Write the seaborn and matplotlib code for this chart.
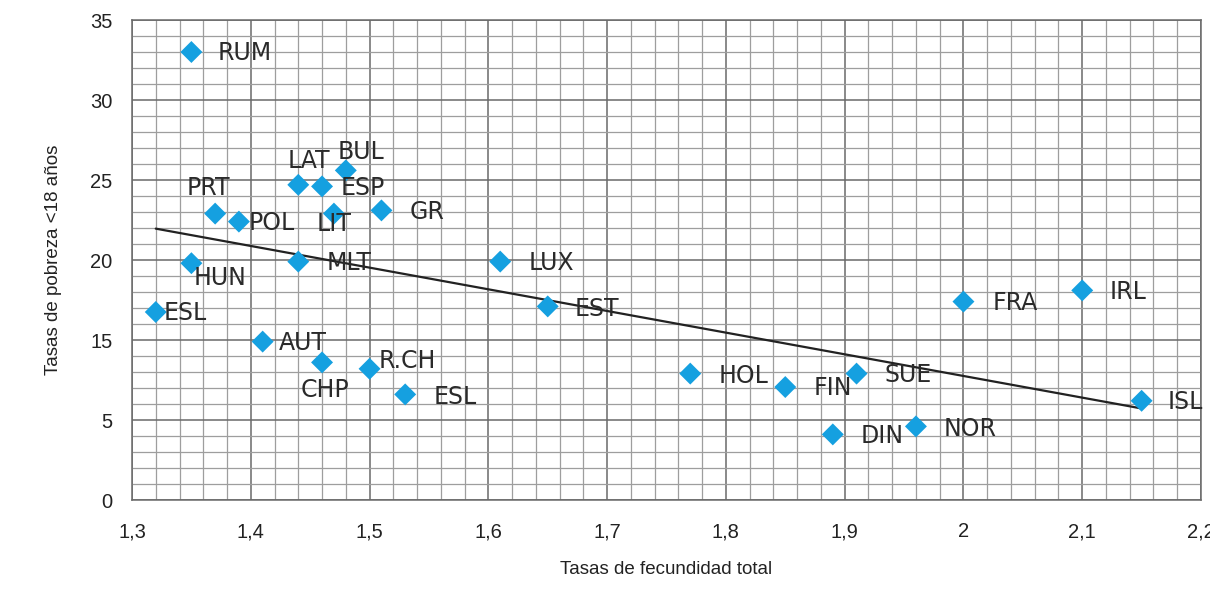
import matplotlib
matplotlib.use("Agg")
import matplotlib.pyplot as plt
from matplotlib.ticker import FixedLocator, MultipleLocator
import seaborn as sns
import pandas as pd

# datos (eje y en unidades de la rejilla; las etiquetas del eje saltan el 10)
paises = ["RUM", "LAT", "BUL", "ESP", "PRT", "POL", "LIT", "GR", "MLT", "HUN",
          "LUX", "EST", "ESL", "AUT", "CHP", "R.CH", "ESL", "HOL", "FIN", "SUE",
          "DIN", "NOR", "FRA", "IRL", "ISL"]
fecundidad = [1.35, 1.44, 1.48, 1.46, 1.37, 1.39, 1.47, 1.51, 1.44, 1.35,
              1.61, 1.65, 1.32, 1.41, 1.46, 1.50, 1.53, 1.77, 1.85, 1.91,
              1.89, 1.96, 2.00, 2.10, 2.15]
pobreza = [28.0, 19.7, 20.6, 19.6, 17.9, 17.4, 17.9, 18.1, 14.9, 14.8,
           14.9, 12.1, 11.75, 9.9, 8.6, 8.2, 6.6, 7.9, 7.06, 7.9,
           4.1, 4.6, 12.4, 13.1, 6.2]

x_ticks = [1.3, 1.4, 1.5, 1.6, 1.7, 1.8, 1.9, 2.0, 2.1, 2.2]
x_labels = ["1,3", "1,4", "1,5", "1,6", "1,7", "1,8", "1,9", "2", "2,1", "2,2"]
y_ticks = [0, 5, 10, 15, 20, 25, 30]
y_labels = ["0", "5", "15", "20", "25", "30", "35"]

# desplazamiento de cada etiqueta respecto al punto (px, px hacia abajo, alineacion)
offsets = [(26, 0, "left"), (11, -25, "center"), (15, -20, "center"), (19, 0, "left"),
           (-7, -27, "center"), (10, 0, "left"), (0, 9, "center"), (28, 0, "left"),
           (28, 0, "left"), (2, 13, "left"), (28, 0, "left"), (27, 1, "left"),
           (8, 0, "left"), (16, 0, "left"), (3, 26, "center"), (9, -9, "left"),
           (28, 1, "left"), (28, 1, "left"), (28, -1, "left"), (28, 0, "left"),
           (28, 0, "left"), (28, 1, "left"), (29, 0, "left"), (27, 0, "left"),
           (26, 0, "left")]

df = pd.DataFrame({"pais": paises, "fecundidad": fecundidad, "pobreza": pobreza})

sns.set_theme(style="white")
plt.rcParams["font.family"] = ["Liberation Sans", "DejaVu Sans"]

fig = plt.figure(figsize=(12.1, 5.92), dpi=100)
ax = fig.add_axes([132 / 1210, 1 - 500 / 592, (1201 - 132) / 1210, 480 / 592])

sns.regplot(data=df, x="fecundidad", y="pobreza", scatter=False, ci=None, ax=ax,
            line_kws={"color": "#222222", "lw": 1.6, "zorder": 3})
sns.scatterplot(data=df, x="fecundidad", y="pobreza", marker="D", s=125,
                color="#15a0e0", edgecolor="none", ax=ax, zorder=4)

for p, x, y, (dx, dy, ha) in zip(paises, fecundidad, pobreza, offsets):
    ax.annotate(p, (x, y), xytext=(dx * 0.72, -(dy + 8.5) * 0.72),
                textcoords="offset points", ha=ha, va="baseline",
                fontsize=17, family="DejaVu Sans", color="#2a2a2a", zorder=5)

ax.set_xlim(1.3, 2.2)
ax.set_ylim(0, 30)
ax.xaxis.set_major_locator(FixedLocator(x_ticks))
ax.set_xticklabels(x_labels)
ax.yaxis.set_major_locator(FixedLocator(y_ticks))
ax.set_yticklabels(y_labels)
ax.xaxis.set_minor_locator(MultipleLocator(0.02))
ax.yaxis.set_minor_locator(MultipleLocator(1))

ax.set_axisbelow(True)
ax.grid(which="minor", color="#9e9e9e", lw=0.9)
ax.grid(which="major", color="#6a6a6a", lw=1.1)
ax.tick_params(which="major", length=7, width=1, color="#808080", labelsize=14.5,
               labelcolor="#222222", pad=7)
ax.tick_params(axis="x", which="major", pad=9)
ax.tick_params(which="minor", length=0)
for s in ax.spines.values():
    s.set_color("#6a6a6a")
    s.set_linewidth(1.1)

ax.set_xlabel("Tasas de fecundidad total", fontsize=13.5, color="#222222", labelpad=14)
ax.set_ylabel("Tasas de pobreza <18 años", fontsize=13.5, color="#222222", labelpad=20)

fig.savefig("out.png", dpi=100, facecolor="white")
